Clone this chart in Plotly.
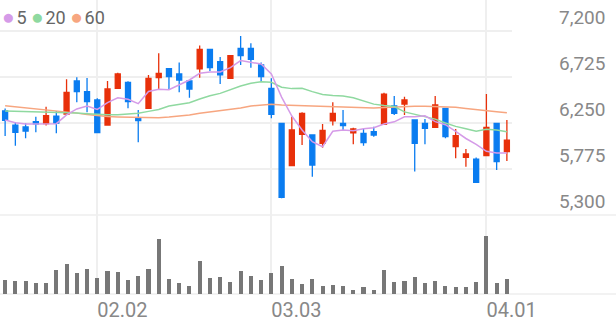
import plotly.graph_objects as go

dates = ["01.20", "01.21", "01.22", "01.23", "01.26", "01.27", "01.28", "01.29", "01.30",
         "02.02", "02.03", "02.04", "02.05", "02.06", "02.09", "02.10", "02.11", "02.12", "02.13",
         "02.19", "02.20", "02.23", "02.24", "02.25", "02.26", "02.27",
         "03.03", "03.04", "03.05", "03.06", "03.09", "03.10", "03.11", "03.12", "03.13",
         "03.16", "03.17", "03.18", "03.19", "03.20", "03.23", "03.24", "03.25", "03.26", "03.27",
         "03.30", "03.31", "04.01", "04.02", "04.03"]

opens = [6374, 6229, 6209, 6264, 6243, 6322, 6343, 6684, 6574, 6488,
         6229, 6608, 6670, 6298, 6401, 6718, 6811, 6756, 6684, 6808,
         7011, 6883, 6711, 7021, 7021, 6849, 6608, 6247, 5810, 6133,
         6126, 6040, 6271, 6247, 6147, 6143, 6161, 6236, 6426, 6446,
         6281, 6247, 6205, 6401, 6006, 5896, 5878, 5913, 6247, 5954]
highs = [6401, 6257, 6247, 6315, 6419, 6374, 6701, 6722, 6715, 6505,
         6684, 6770, 6680, 6384, 6746, 6969, 6811, 6876, 6684, 7049,
         7011, 6932, 6945, 7148, 7073, 6876, 6711, 6247, 6315, 6360,
         6126, 6240, 6463, 6384, 6202, 6188, 6212, 6563, 6529, 6522,
         6281, 6291, 6529, 6401, 6188, 5982, 5895, 6549, 6247, 6281]
lows = [6116, 6016, 6092, 6154, 6223, 6143, 6335, 6463, 6360, 6143,
        6225, 6600, 6402, 6050, 6395, 6601, 6598, 6567, 6512, 6718,
        6787, 6653, 6704, 6849, 6821, 6677, 6298, 5472, 5810, 6023,
        5696, 5995, 6223, 6178, 6030, 6016, 6109, 6236, 6333, 6333,
        5748, 6030, 6205, 6092, 5885, 5799, 5637, 5913, 5765, 5858]
closes = [6278, 6154, 6167, 6240, 6326, 6250, 6567, 6574, 6470, 6150,
          6601, 6756, 6470, 6274, 6711, 6763, 6728, 6694, 6601, 7011,
          6821, 6746, 6945, 6945, 6907, 6728, 6340, 5483, 6178, 6350,
          5816, 6174, 6350, 6223, 6188, 6047, 6126, 6549, 6350, 6488,
          6040, 6195, 6436, 6109, 6119, 5930, 5637, 6205, 5851, 6074]
volumes = [140000, 133000, 130000, 113000, 110000, 240000, 303000, 213000, 247000, 160000,
           227000, 220000, 143000, 180000, 253000, 547000, 150000, 113000, 83000, 330000,
           163000, 173000, 123000, 227000, 183000, 143000, 210000, 283000, 147000, 100000,
           150000, 77000, 93000, 80000, 40000, 67000, 43000, 237000, 120000, 133000,
           170000, 107000, 130000, 83000, 70000, 70000, 120000, 577000, 110000, 147000]
ma5 = [6281, 6253, 6240, 6240, 6237, 6243, 6333, 6395, 6426, 6391,
       6460, 6511, 6495, 6450, 6576, 6598, 6594, 6642, 6694, 6763,
       6777, 6777, 6821, 6894, 6877, 6859, 6756, 6518, 6322, 6178,
       6057, 6005, 6165, 6178, 6170, 6190, 6202, 6240, 6262, 6315,
       6315, 6324, 6264, 6232, 6163, 6090, 6030, 5958, 5940, 5940]
ma20 = [6374, 6372, 6370, 6368, 6366, 6362, 6358, 6352, 6346, 6340,
        6336, 6336, 6342, 6350, 6370, 6390, 6425, 6443, 6460, 6498,
        6532, 6556, 6598, 6632, 6660, 6677, 6670, 6619, 6605, 6608,
        6574, 6545, 6535, 6529, 6510, 6480, 6445, 6430, 6420, 6365,
        6340, 6318, 6290, 6250, 6215, 6190, 6165, 6185, 6178, 6160]
ma60 = [6429, 6419, 6408, 6398, 6388, 6377, 6365, 6352, 6338, 6326,
        6316, 6312, 6309, 6305, 6305, 6305, 6312, 6319, 6333, 6350,
        6364, 6374, 6388, 6405, 6426, 6436, 6443, 6436, 6432, 6429,
        6426, 6422, 6419, 6415, 6412, 6408, 6405, 6410, 6416, 6422,
        6422, 6422, 6419, 6419, 6412, 6401, 6388, 6378, 6367, 6357]

price_ticks = [7200, 6725, 6250, 5775, 5300]
price_labels = ["7,200", "6,725", "6,250", "5,775", "5,300"]
date_ticks = ["02.02", "03.03", "04.01"]
ma_names = ["5", "20", "60"]

W, H = 616, 321
PLOT_W = 512
RED = "#e8300a"
BLUE = "#0a7cf0"
MA_COLORS = ["#d59be8", "#8fd9a0", "#f7a680"]
GRID = "#efefef"

price_top_px, price_bot_px, vol_bot_px = 0, 215, 294
py = lambda px: 1 - px / H

fig = go.Figure()
for vals, col, name in zip([ma60, ma20, ma5], MA_COLORS[::-1], ma_names[::-1]):
    fig.add_trace(go.Scatter(x=dates, y=vals, mode="lines", name=name,
                             line=dict(color=col, width=1.5), xaxis="x", yaxis="y",
                             hoverinfo="skip"))
fig.add_trace(go.Candlestick(
    x=dates, open=opens, high=highs, low=lows, close=closes,
    increasing=dict(line=dict(color=RED, width=1.3), fillcolor=RED),
    decreasing=dict(line=dict(color=BLUE, width=1.3), fillcolor=BLUE),
    whiskerwidth=0, xaxis="x", yaxis="y", name="price"))
fig.add_trace(go.Bar(x=dates, y=volumes, marker=dict(color="#777777", line=dict(width=0)),
                     width=0.4, xaxis="x2", yaxis="y2", name="vol"))

# price scale: 7200 at px 31, 5300 at px 215
per_px = (7200 - 5300) / (215 - 31)
price_max = 7200 + 31 * per_px

axis_font = dict(family="Roboto", size=19, color="#888888")
fig.update_layout(
    width=W, height=H, margin=dict(l=0, r=W - PLOT_W, t=0, b=0),
    paper_bgcolor="white", plot_bgcolor="white", showlegend=False,
    xaxis=dict(type="category", domain=[0, 1], range=[-0.5, 49.5], anchor="y",
               tickvals=date_ticks, showticklabels=False, showgrid=True,
               gridcolor=GRID, gridwidth=1.5, zeroline=False, showline=False,
               rangeslider=dict(visible=False), fixedrange=True),
    yaxis=dict(domain=[py(price_bot_px), py(price_top_px)], range=[5300, price_max],
               side="right", tickvals=price_ticks, ticktext=price_labels,
               ticklabelposition="outside top", ticklabelstandoff=46,
               tickfont=axis_font, showgrid=True, gridcolor=GRID, gridwidth=1.5,
               zeroline=False, showline=False, ticks=""),
    xaxis2=dict(type="category", domain=[0, 1], range=[-0.5, 49.5], anchor="y2",
                tickvals=date_ticks, ticktext=date_ticks, ticklabelposition="outside right",
                tickfont=dict(family="Roboto", size=20, color="#888888"),
                showgrid=True, gridcolor=GRID, gridwidth=1.5, zeroline=False,
                showline=False, ticks="", ticklabelstandoff=2),
    yaxis2=dict(domain=[py(vol_bot_px), py(price_bot_px)],
                range=[0, (vol_bot_px - price_bot_px) * 10000],
                showticklabels=False, showgrid=False, zeroline=False, showline=False),
    bargap=0,
)

# full-width separator lines
for px in [price_bot_px, vol_bot_px]:
    fig.add_shape(type="line", xref="paper", yref="paper", x0=0, x1=W / PLOT_W,
                  y0=py(px), y1=py(px), line=dict(color="#eeeeee", width=1.5), layer="below")

NB = "\u00a0"
legend_txt = "".join(
    f'<span style="color:{c};font-size:21px">●</span><span style="font-size:7px">{NB}</span>{n}'
    + ("" if i == 2 else NB)
    for i, (c, n) in enumerate(zip(MA_COLORS, ma_names)))
fig.add_annotation(text=legend_txt, xref="paper", yref="paper", x=0, y=1,
                   xanchor="left", yanchor="top", showarrow=False, xshift=0, yshift=-3,
                   font=dict(family="Roboto", size=18, color="#666666"))

fig.write_html("out.html")
